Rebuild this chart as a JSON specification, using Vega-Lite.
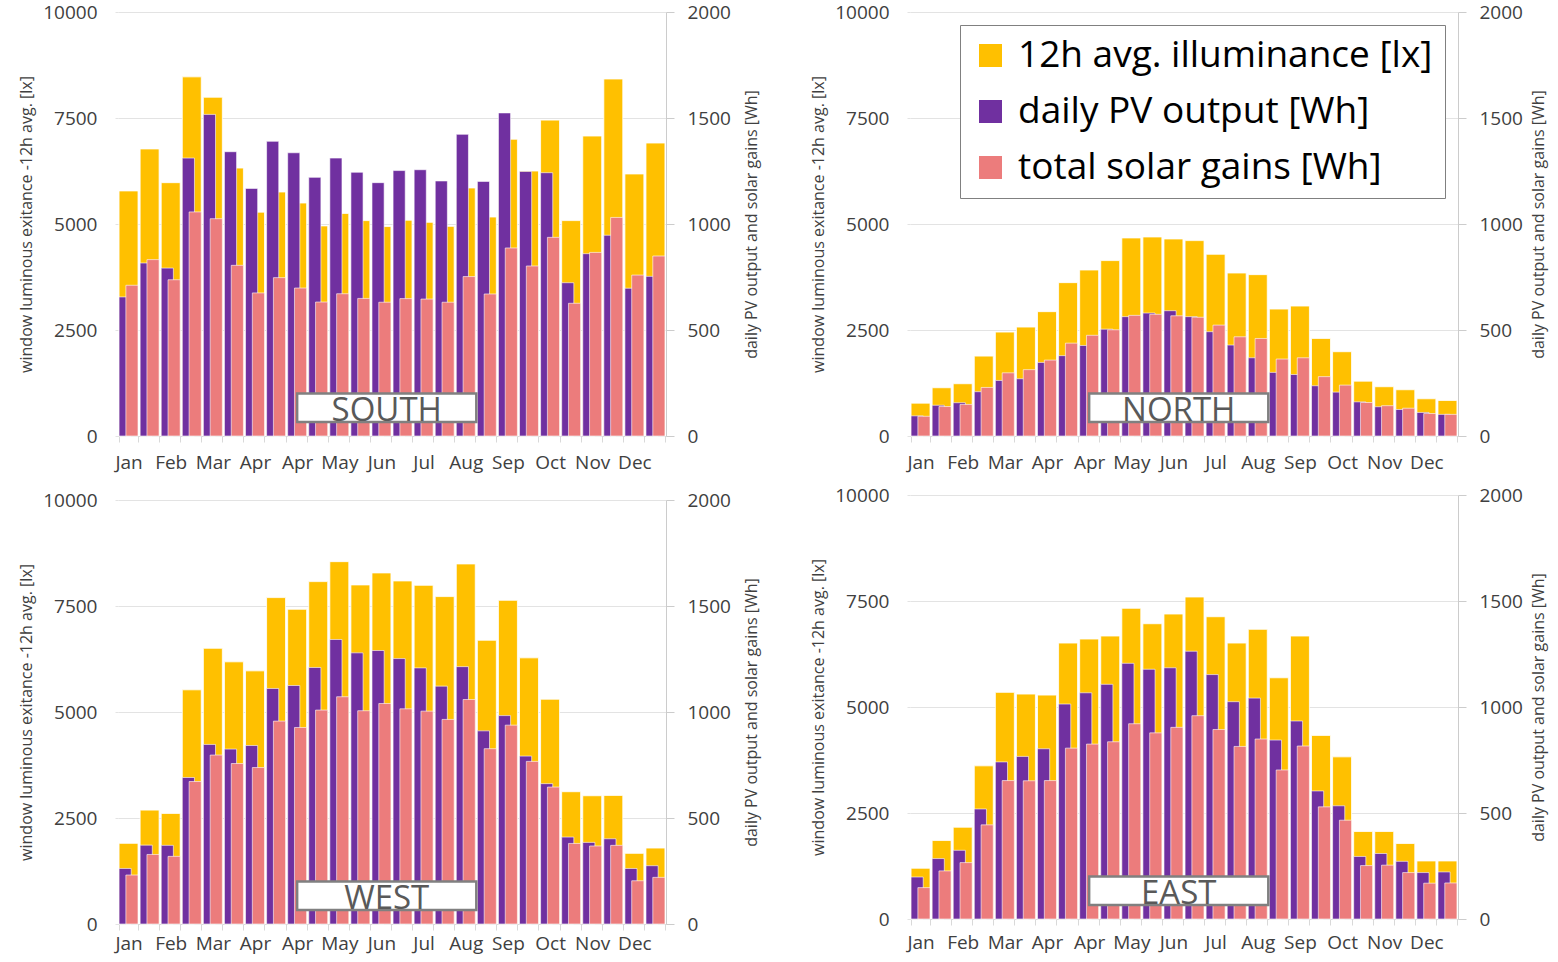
{
"$schema": "https://vega.github.io/schema/vega-lite/v6.json",
"padding": {"left": 18, "top": 3, "right": 6, "bottom": 4},
"config": {
  "view": {"stroke": null},
  "font": "Open Sans",
  "axis": {"labelFont": "Open Sans", "titleFont": "Open Sans", "labelFontSize": 19, "titleFontSize": 16, "titleFontWeight": "normal", "labelColor": "#404040", "titleColor": "#404040"},
  "legend": {"labelFont": "Open Sans"}
},
"datasets": {"d": [
{"d":"SOUTH","p":1,"s":"12h avg. illuminance [lx]","v":5780},{"d":"SOUTH","p":2,"s":"12h avg. illuminance [lx]","v":6770},{"d":"SOUTH","p":3,"s":"12h avg. illuminance [lx]","v":5975},{"d":"SOUTH","p":4,"s":"12h avg. illuminance [lx]","v":8470},{"d":"SOUTH","p":5,"s":"12h avg. illuminance [lx]","v":7990},{"d":"SOUTH","p":6,"s":"12h avg. illuminance [lx]","v":6320},{"d":"SOUTH","p":7,"s":"12h avg. illuminance [lx]","v":5280},{"d":"SOUTH","p":8,"s":"12h avg. illuminance [lx]","v":5755},{"d":"SOUTH","p":9,"s":"12h avg. illuminance [lx]","v":5495},{"d":"SOUTH","p":10,"s":"12h avg. illuminance [lx]","v":4955},{"d":"SOUTH","p":11,"s":"12h avg. illuminance [lx]","v":5250},{"d":"SOUTH","p":12,"s":"12h avg. illuminance [lx]","v":5080},{"d":"SOUTH","p":13,"s":"12h avg. illuminance [lx]","v":4940},{"d":"SOUTH","p":14,"s":"12h avg. illuminance [lx]","v":5090},{"d":"SOUTH","p":15,"s":"12h avg. illuminance [lx]","v":5040},{"d":"SOUTH","p":16,"s":"12h avg. illuminance [lx]","v":4945},{"d":"SOUTH","p":17,"s":"12h avg. illuminance [lx]","v":5850},{"d":"SOUTH","p":18,"s":"12h avg. illuminance [lx]","v":5165},{"d":"SOUTH","p":19,"s":"12h avg. illuminance [lx]","v":7000},{"d":"SOUTH","p":20,"s":"12h avg. illuminance [lx]","v":6250},{"d":"SOUTH","p":21,"s":"12h avg. illuminance [lx]","v":7450},{"d":"SOUTH","p":22,"s":"12h avg. illuminance [lx]","v":5080},{"d":"SOUTH","p":23,"s":"12h avg. illuminance [lx]","v":7075},{"d":"SOUTH","p":24,"s":"12h avg. illuminance [lx]","v":8420},{"d":"SOUTH","p":25,"s":"12h avg. illuminance [lx]","v":6180},{"d":"SOUTH","p":26,"s":"12h avg. illuminance [lx]","v":6910},
{"d":"SOUTH","p":1,"s":"daily PV output [Wh]","v":656},{"d":"SOUTH","p":2,"s":"daily PV output [Wh]","v":816},{"d":"SOUTH","p":3,"s":"daily PV output [Wh]","v":792},{"d":"SOUTH","p":4,"s":"daily PV output [Wh]","v":1311},{"d":"SOUTH","p":5,"s":"daily PV output [Wh]","v":1517},{"d":"SOUTH","p":6,"s":"daily PV output [Wh]","v":1341},{"d":"SOUTH","p":7,"s":"daily PV output [Wh]","v":1168},{"d":"SOUTH","p":8,"s":"daily PV output [Wh]","v":1390},{"d":"SOUTH","p":9,"s":"daily PV output [Wh]","v":1336},{"d":"SOUTH","p":10,"s":"daily PV output [Wh]","v":1220},{"d":"SOUTH","p":11,"s":"daily PV output [Wh]","v":1311},{"d":"SOUTH","p":12,"s":"daily PV output [Wh]","v":1244},{"d":"SOUTH","p":13,"s":"daily PV output [Wh]","v":1195},{"d":"SOUTH","p":14,"s":"daily PV output [Wh]","v":1252},{"d":"SOUTH","p":15,"s":"daily PV output [Wh]","v":1256},{"d":"SOUTH","p":16,"s":"daily PV output [Wh]","v":1203},{"d":"SOUTH","p":17,"s":"daily PV output [Wh]","v":1423},{"d":"SOUTH","p":18,"s":"daily PV output [Wh]","v":1201},{"d":"SOUTH","p":19,"s":"daily PV output [Wh]","v":1524},{"d":"SOUTH","p":20,"s":"daily PV output [Wh]","v":1248},{"d":"SOUTH","p":21,"s":"daily PV output [Wh]","v":1242},{"d":"SOUTH","p":22,"s":"daily PV output [Wh]","v":723},{"d":"SOUTH","p":23,"s":"daily PV output [Wh]","v":860},{"d":"SOUTH","p":24,"s":"daily PV output [Wh]","v":947},{"d":"SOUTH","p":25,"s":"daily PV output [Wh]","v":697},{"d":"SOUTH","p":26,"s":"daily PV output [Wh]","v":753},
{"d":"SOUTH","p":1,"s":"total solar gains [Wh]","v":711},{"d":"SOUTH","p":2,"s":"total solar gains [Wh]","v":832},{"d":"SOUTH","p":3,"s":"total solar gains [Wh]","v":737},{"d":"SOUTH","p":4,"s":"total solar gains [Wh]","v":1057},{"d":"SOUTH","p":5,"s":"total solar gains [Wh]","v":1025},{"d":"SOUTH","p":6,"s":"total solar gains [Wh]","v":805},{"d":"SOUTH","p":7,"s":"total solar gains [Wh]","v":675},{"d":"SOUTH","p":8,"s":"total solar gains [Wh]","v":747},{"d":"SOUTH","p":9,"s":"total solar gains [Wh]","v":698},{"d":"SOUTH","p":10,"s":"total solar gains [Wh]","v":632},{"d":"SOUTH","p":11,"s":"total solar gains [Wh]","v":671},{"d":"SOUTH","p":12,"s":"total solar gains [Wh]","v":649},{"d":"SOUTH","p":13,"s":"total solar gains [Wh]","v":631},{"d":"SOUTH","p":14,"s":"total solar gains [Wh]","v":648},{"d":"SOUTH","p":15,"s":"total solar gains [Wh]","v":646},{"d":"SOUTH","p":16,"s":"total solar gains [Wh]","v":631},{"d":"SOUTH","p":17,"s":"total solar gains [Wh]","v":752},{"d":"SOUTH","p":18,"s":"total solar gains [Wh]","v":670},{"d":"SOUTH","p":19,"s":"total solar gains [Wh]","v":887},{"d":"SOUTH","p":20,"s":"total solar gains [Wh]","v":802},{"d":"SOUTH","p":21,"s":"total solar gains [Wh]","v":937},{"d":"SOUTH","p":22,"s":"total solar gains [Wh]","v":626},{"d":"SOUTH","p":23,"s":"total solar gains [Wh]","v":866},{"d":"SOUTH","p":24,"s":"total solar gains [Wh]","v":1031},{"d":"SOUTH","p":25,"s":"total solar gains [Wh]","v":759},{"d":"SOUTH","p":26,"s":"total solar gains [Wh]","v":849},
{"d":"NORTH","p":1,"s":"12h avg. illuminance [lx]","v":774},{"d":"NORTH","p":2,"s":"12h avg. illuminance [lx]","v":1138},{"d":"NORTH","p":3,"s":"12h avg. illuminance [lx]","v":1233},{"d":"NORTH","p":4,"s":"12h avg. illuminance [lx]","v":1884},{"d":"NORTH","p":5,"s":"12h avg. illuminance [lx]","v":2451},{"d":"NORTH","p":6,"s":"12h avg. illuminance [lx]","v":2569},{"d":"NORTH","p":7,"s":"12h avg. illuminance [lx]","v":2933},{"d":"NORTH","p":8,"s":"12h avg. illuminance [lx]","v":3617},{"d":"NORTH","p":9,"s":"12h avg. illuminance [lx]","v":3915},{"d":"NORTH","p":10,"s":"12h avg. illuminance [lx]","v":4137},{"d":"NORTH","p":11,"s":"12h avg. illuminance [lx]","v":4671},{"d":"NORTH","p":12,"s":"12h avg. illuminance [lx]","v":4694},{"d":"NORTH","p":13,"s":"12h avg. illuminance [lx]","v":4647},{"d":"NORTH","p":14,"s":"12h avg. illuminance [lx]","v":4608},{"d":"NORTH","p":15,"s":"12h avg. illuminance [lx]","v":4286},{"d":"NORTH","p":16,"s":"12h avg. illuminance [lx]","v":3844},{"d":"NORTH","p":17,"s":"12h avg. illuminance [lx]","v":3806},{"d":"NORTH","p":18,"s":"12h avg. illuminance [lx]","v":2994},{"d":"NORTH","p":19,"s":"12h avg. illuminance [lx]","v":3065},{"d":"NORTH","p":20,"s":"12h avg. illuminance [lx]","v":2302},{"d":"NORTH","p":21,"s":"12h avg. illuminance [lx]","v":1988},{"d":"NORTH","p":22,"s":"12h avg. illuminance [lx]","v":1294},{"d":"NORTH","p":23,"s":"12h avg. illuminance [lx]","v":1162},{"d":"NORTH","p":24,"s":"12h avg. illuminance [lx]","v":1091},{"d":"NORTH","p":25,"s":"12h avg. illuminance [lx]","v":878},{"d":"NORTH","p":26,"s":"12h avg. illuminance [lx]","v":838},
{"d":"NORTH","p":1,"s":"daily PV output [Wh]","v":95},{"d":"NORTH","p":2,"s":"daily PV output [Wh]","v":145},{"d":"NORTH","p":3,"s":"daily PV output [Wh]","v":157},{"d":"NORTH","p":4,"s":"daily PV output [Wh]","v":209},{"d":"NORTH","p":5,"s":"daily PV output [Wh]","v":262},{"d":"NORTH","p":6,"s":"daily PV output [Wh]","v":270},{"d":"NORTH","p":7,"s":"daily PV output [Wh]","v":347},{"d":"NORTH","p":8,"s":"daily PV output [Wh]","v":379},{"d":"NORTH","p":9,"s":"daily PV output [Wh]","v":427},{"d":"NORTH","p":10,"s":"daily PV output [Wh]","v":504},{"d":"NORTH","p":11,"s":"daily PV output [Wh]","v":563},{"d":"NORTH","p":12,"s":"daily PV output [Wh]","v":580},{"d":"NORTH","p":13,"s":"daily PV output [Wh]","v":591},{"d":"NORTH","p":14,"s":"daily PV output [Wh]","v":563},{"d":"NORTH","p":15,"s":"daily PV output [Wh]","v":492},{"d":"NORTH","p":16,"s":"daily PV output [Wh]","v":429},{"d":"NORTH","p":17,"s":"daily PV output [Wh]","v":369},{"d":"NORTH","p":18,"s":"daily PV output [Wh]","v":300},{"d":"NORTH","p":19,"s":"daily PV output [Wh]","v":290},{"d":"NORTH","p":20,"s":"daily PV output [Wh]","v":237},{"d":"NORTH","p":21,"s":"daily PV output [Wh]","v":207},{"d":"NORTH","p":22,"s":"daily PV output [Wh]","v":161},{"d":"NORTH","p":23,"s":"daily PV output [Wh]","v":138},{"d":"NORTH","p":24,"s":"daily PV output [Wh]","v":125},{"d":"NORTH","p":25,"s":"daily PV output [Wh]","v":111},{"d":"NORTH","p":26,"s":"daily PV output [Wh]","v":102},
{"d":"NORTH","p":1,"s":"total solar gains [Wh]","v":93},{"d":"NORTH","p":2,"s":"total solar gains [Wh]","v":139},{"d":"NORTH","p":3,"s":"total solar gains [Wh]","v":149},{"d":"NORTH","p":4,"s":"total solar gains [Wh]","v":229},{"d":"NORTH","p":5,"s":"total solar gains [Wh]","v":298},{"d":"NORTH","p":6,"s":"total solar gains [Wh]","v":313},{"d":"NORTH","p":7,"s":"total solar gains [Wh]","v":358},{"d":"NORTH","p":8,"s":"total solar gains [Wh]","v":438},{"d":"NORTH","p":9,"s":"total solar gains [Wh]","v":475},{"d":"NORTH","p":10,"s":"total solar gains [Wh]","v":501},{"d":"NORTH","p":11,"s":"total solar gains [Wh]","v":569},{"d":"NORTH","p":12,"s":"total solar gains [Wh]","v":574},{"d":"NORTH","p":13,"s":"total solar gains [Wh]","v":567},{"d":"NORTH","p":14,"s":"total solar gains [Wh]","v":560},{"d":"NORTH","p":15,"s":"total solar gains [Wh]","v":523},{"d":"NORTH","p":16,"s":"total solar gains [Wh]","v":468},{"d":"NORTH","p":17,"s":"total solar gains [Wh]","v":460},{"d":"NORTH","p":18,"s":"total solar gains [Wh]","v":363},{"d":"NORTH","p":19,"s":"total solar gains [Wh]","v":369},{"d":"NORTH","p":20,"s":"total solar gains [Wh]","v":280},{"d":"NORTH","p":21,"s":"total solar gains [Wh]","v":240},{"d":"NORTH","p":22,"s":"total solar gains [Wh]","v":158},{"d":"NORTH","p":23,"s":"total solar gains [Wh]","v":143},{"d":"NORTH","p":24,"s":"total solar gains [Wh]","v":131},{"d":"NORTH","p":25,"s":"total solar gains [Wh]","v":106},{"d":"NORTH","p":26,"s":"total solar gains [Wh]","v":102},
{"d":"WEST","p":1,"s":"12h avg. illuminance [lx]","v":1902},{"d":"WEST","p":2,"s":"12h avg. illuminance [lx]","v":2686},{"d":"WEST","p":3,"s":"12h avg. illuminance [lx]","v":2608},{"d":"WEST","p":4,"s":"12h avg. illuminance [lx]","v":5523},{"d":"WEST","p":5,"s":"12h avg. illuminance [lx]","v":6503},{"d":"WEST","p":6,"s":"12h avg. illuminance [lx]","v":6183},{"d":"WEST","p":7,"s":"12h avg. illuminance [lx]","v":5970},{"d":"WEST","p":8,"s":"12h avg. illuminance [lx]","v":7698},{"d":"WEST","p":9,"s":"12h avg. illuminance [lx]","v":7423},{"d":"WEST","p":10,"s":"12h avg. illuminance [lx]","v":8075},{"d":"WEST","p":11,"s":"12h avg. illuminance [lx]","v":8546},{"d":"WEST","p":12,"s":"12h avg. illuminance [lx]","v":7997},{"d":"WEST","p":13,"s":"12h avg. illuminance [lx]","v":8280},{"d":"WEST","p":14,"s":"12h avg. illuminance [lx]","v":8091},{"d":"WEST","p":15,"s":"12h avg. illuminance [lx]","v":7988},{"d":"WEST","p":16,"s":"12h avg. illuminance [lx]","v":7722},{"d":"WEST","p":17,"s":"12h avg. illuminance [lx]","v":8492},{"d":"WEST","p":18,"s":"12h avg. illuminance [lx]","v":6692},{"d":"WEST","p":19,"s":"12h avg. illuminance [lx]","v":7634},{"d":"WEST","p":20,"s":"12h avg. illuminance [lx]","v":6277},{"d":"WEST","p":21,"s":"12h avg. illuminance [lx]","v":5302},{"d":"WEST","p":22,"s":"12h avg. illuminance [lx]","v":3120},{"d":"WEST","p":23,"s":"12h avg. illuminance [lx]","v":3025},{"d":"WEST","p":24,"s":"12h avg. illuminance [lx]","v":3033},{"d":"WEST","p":25,"s":"12h avg. illuminance [lx]","v":1666},{"d":"WEST","p":26,"s":"12h avg. illuminance [lx]","v":1791},
{"d":"WEST","p":1,"s":"daily PV output [Wh]","v":262},{"d":"WEST","p":2,"s":"daily PV output [Wh]","v":372},{"d":"WEST","p":3,"s":"daily PV output [Wh]","v":371},{"d":"WEST","p":4,"s":"daily PV output [Wh]","v":691},{"d":"WEST","p":5,"s":"daily PV output [Wh]","v":847},{"d":"WEST","p":6,"s":"daily PV output [Wh]","v":825},{"d":"WEST","p":7,"s":"daily PV output [Wh]","v":842},{"d":"WEST","p":8,"s":"daily PV output [Wh]","v":1111},{"d":"WEST","p":9,"s":"daily PV output [Wh]","v":1125},{"d":"WEST","p":10,"s":"daily PV output [Wh]","v":1210},{"d":"WEST","p":11,"s":"daily PV output [Wh]","v":1342},{"d":"WEST","p":12,"s":"daily PV output [Wh]","v":1279},{"d":"WEST","p":13,"s":"daily PV output [Wh]","v":1290},{"d":"WEST","p":14,"s":"daily PV output [Wh]","v":1252},{"d":"WEST","p":15,"s":"daily PV output [Wh]","v":1208},{"d":"WEST","p":16,"s":"daily PV output [Wh]","v":1122},{"d":"WEST","p":17,"s":"daily PV output [Wh]","v":1214},{"d":"WEST","p":18,"s":"daily PV output [Wh]","v":911},{"d":"WEST","p":19,"s":"daily PV output [Wh]","v":983},{"d":"WEST","p":20,"s":"daily PV output [Wh]","v":792},{"d":"WEST","p":21,"s":"daily PV output [Wh]","v":662},{"d":"WEST","p":22,"s":"daily PV output [Wh]","v":410},{"d":"WEST","p":23,"s":"daily PV output [Wh]","v":385},{"d":"WEST","p":24,"s":"daily PV output [Wh]","v":402},{"d":"WEST","p":25,"s":"daily PV output [Wh]","v":262},{"d":"WEST","p":26,"s":"daily PV output [Wh]","v":275},
{"d":"WEST","p":1,"s":"total solar gains [Wh]","v":231},{"d":"WEST","p":2,"s":"total solar gains [Wh]","v":328},{"d":"WEST","p":3,"s":"total solar gains [Wh]","v":319},{"d":"WEST","p":4,"s":"total solar gains [Wh]","v":672},{"d":"WEST","p":5,"s":"total solar gains [Wh]","v":797},{"d":"WEST","p":6,"s":"total solar gains [Wh]","v":757},{"d":"WEST","p":7,"s":"total solar gains [Wh]","v":738},{"d":"WEST","p":8,"s":"total solar gains [Wh]","v":957},{"d":"WEST","p":9,"s":"total solar gains [Wh]","v":927},{"d":"WEST","p":10,"s":"total solar gains [Wh]","v":1009},{"d":"WEST","p":11,"s":"total solar gains [Wh]","v":1072},{"d":"WEST","p":12,"s":"total solar gains [Wh]","v":1006},{"d":"WEST","p":13,"s":"total solar gains [Wh]","v":1040},{"d":"WEST","p":14,"s":"total solar gains [Wh]","v":1015},{"d":"WEST","p":15,"s":"total solar gains [Wh]","v":1004},{"d":"WEST","p":16,"s":"total solar gains [Wh]","v":965},{"d":"WEST","p":17,"s":"total solar gains [Wh]","v":1059},{"d":"WEST","p":18,"s":"total solar gains [Wh]","v":827},{"d":"WEST","p":19,"s":"total solar gains [Wh]","v":938},{"d":"WEST","p":20,"s":"total solar gains [Wh]","v":767},{"d":"WEST","p":21,"s":"total solar gains [Wh]","v":646},{"d":"WEST","p":22,"s":"total solar gains [Wh]","v":380},{"d":"WEST","p":23,"s":"total solar gains [Wh]","v":368},{"d":"WEST","p":24,"s":"total solar gains [Wh]","v":371},{"d":"WEST","p":25,"s":"total solar gains [Wh]","v":204},{"d":"WEST","p":26,"s":"total solar gains [Wh]","v":220},
{"d":"EAST","p":1,"s":"12h avg. illuminance [lx]","v":1197},{"d":"EAST","p":2,"s":"12h avg. illuminance [lx]","v":1851},{"d":"EAST","p":3,"s":"12h avg. illuminance [lx]","v":2165},{"d":"EAST","p":4,"s":"12h avg. illuminance [lx]","v":3612},{"d":"EAST","p":5,"s":"12h avg. illuminance [lx]","v":5345},{"d":"EAST","p":6,"s":"12h avg. illuminance [lx]","v":5305},{"d":"EAST","p":7,"s":"12h avg. illuminance [lx]","v":5281},{"d":"EAST","p":8,"s":"12h avg. illuminance [lx]","v":6508},{"d":"EAST","p":9,"s":"12h avg. illuminance [lx]","v":6603},{"d":"EAST","p":10,"s":"12h avg. illuminance [lx]","v":6674},{"d":"EAST","p":11,"s":"12h avg. illuminance [lx]","v":7328},{"d":"EAST","p":12,"s":"12h avg. illuminance [lx]","v":6964},{"d":"EAST","p":13,"s":"12h avg. illuminance [lx]","v":7193},{"d":"EAST","p":14,"s":"12h avg. illuminance [lx]","v":7594},{"d":"EAST","p":15,"s":"12h avg. illuminance [lx]","v":7129},{"d":"EAST","p":16,"s":"12h avg. illuminance [lx]","v":6508},{"d":"EAST","p":17,"s":"12h avg. illuminance [lx]","v":6832},{"d":"EAST","p":18,"s":"12h avg. illuminance [lx]","v":5689},{"d":"EAST","p":19,"s":"12h avg. illuminance [lx]","v":6674},{"d":"EAST","p":20,"s":"12h avg. illuminance [lx]","v":4330},{"d":"EAST","p":21,"s":"12h avg. illuminance [lx]","v":3824},{"d":"EAST","p":22,"s":"12h avg. illuminance [lx]","v":2063},{"d":"EAST","p":23,"s":"12h avg. illuminance [lx]","v":2063},{"d":"EAST","p":24,"s":"12h avg. illuminance [lx]","v":1780},{"d":"EAST","p":25,"s":"12h avg. illuminance [lx]","v":1369},{"d":"EAST","p":26,"s":"12h avg. illuminance [lx]","v":1369},
{"d":"EAST","p":1,"s":"daily PV output [Wh]","v":198},{"d":"EAST","p":2,"s":"daily PV output [Wh]","v":285},{"d":"EAST","p":3,"s":"daily PV output [Wh]","v":324},{"d":"EAST","p":4,"s":"daily PV output [Wh]","v":519},{"d":"EAST","p":5,"s":"daily PV output [Wh]","v":741},{"d":"EAST","p":6,"s":"daily PV output [Wh]","v":767},{"d":"EAST","p":7,"s":"daily PV output [Wh]","v":803},{"d":"EAST","p":8,"s":"daily PV output [Wh]","v":1014},{"d":"EAST","p":9,"s":"daily PV output [Wh]","v":1067},{"d":"EAST","p":10,"s":"daily PV output [Wh]","v":1107},{"d":"EAST","p":11,"s":"daily PV output [Wh]","v":1206},{"d":"EAST","p":12,"s":"daily PV output [Wh]","v":1178},{"d":"EAST","p":13,"s":"daily PV output [Wh]","v":1185},{"d":"EAST","p":14,"s":"daily PV output [Wh]","v":1263},{"d":"EAST","p":15,"s":"daily PV output [Wh]","v":1153},{"d":"EAST","p":16,"s":"daily PV output [Wh]","v":1025},{"d":"EAST","p":17,"s":"daily PV output [Wh]","v":1042},{"d":"EAST","p":18,"s":"daily PV output [Wh]","v":844},{"d":"EAST","p":19,"s":"daily PV output [Wh]","v":934},{"d":"EAST","p":20,"s":"daily PV output [Wh]","v":604},{"d":"EAST","p":21,"s":"daily PV output [Wh]","v":534},{"d":"EAST","p":22,"s":"daily PV output [Wh]","v":295},{"d":"EAST","p":23,"s":"daily PV output [Wh]","v":309},{"d":"EAST","p":24,"s":"daily PV output [Wh]","v":272},{"d":"EAST","p":25,"s":"daily PV output [Wh]","v":219},{"d":"EAST","p":26,"s":"daily PV output [Wh]","v":222},
{"d":"EAST","p":1,"s":"total solar gains [Wh]","v":148},{"d":"EAST","p":2,"s":"total solar gains [Wh]","v":227},{"d":"EAST","p":3,"s":"total solar gains [Wh]","v":266},{"d":"EAST","p":4,"s":"total solar gains [Wh]","v":444},{"d":"EAST","p":5,"s":"total solar gains [Wh]","v":653},{"d":"EAST","p":6,"s":"total solar gains [Wh]","v":652},{"d":"EAST","p":7,"s":"total solar gains [Wh]","v":653},{"d":"EAST","p":8,"s":"total solar gains [Wh]","v":806},{"d":"EAST","p":9,"s":"total solar gains [Wh]","v":825},{"d":"EAST","p":10,"s":"total solar gains [Wh]","v":836},{"d":"EAST","p":11,"s":"total solar gains [Wh]","v":921},{"d":"EAST","p":12,"s":"total solar gains [Wh]","v":878},{"d":"EAST","p":13,"s":"total solar gains [Wh]","v":904},{"d":"EAST","p":14,"s":"total solar gains [Wh]","v":959},{"d":"EAST","p":15,"s":"total solar gains [Wh]","v":894},{"d":"EAST","p":16,"s":"total solar gains [Wh]","v":814},{"d":"EAST","p":17,"s":"total solar gains [Wh]","v":849},{"d":"EAST","p":18,"s":"total solar gains [Wh]","v":703},{"d":"EAST","p":19,"s":"total solar gains [Wh]","v":816},{"d":"EAST","p":20,"s":"total solar gains [Wh]","v":529},{"d":"EAST","p":21,"s":"total solar gains [Wh]","v":466},{"d":"EAST","p":22,"s":"total solar gains [Wh]","v":252},{"d":"EAST","p":23,"s":"total solar gains [Wh]","v":254},{"d":"EAST","p":24,"s":"total solar gains [Wh]","v":219},{"d":"EAST","p":25,"s":"total solar gains [Wh]","v":169},{"d":"EAST","p":26,"s":"total solar gains [Wh]","v":170}
]},
"resolve": {"scale": {"color": "independent"}, "legend": {"color": "independent"}},
"spacing": 50,
"hconcat": [
 {"spacing": 19,
  "resolve": {"scale": {"color": "independent"}, "legend": {"color": "independent"}},
  "vconcat": [
  {"width": 548, "height": 424,
   "resolve": {"scale": {"x": "independent", "y": "independent"}},
   "layer": [
    {"data": {"name": "d"}, "transform": [{"filter": "datum.d == 'SOUTH' && datum.s == '12h avg. illuminance [lx]'"}],
     "mark": {"type": "bar", "stroke": "white", "strokeWidth": 0.8},
     "encoding": {
      "x": {"field": "p", "type": "ordinal", "scale": {"paddingInner": 0.1, "paddingOuter": 0.05}, "axis": {"title": null, "labelAngle": 0, "tickBand": "extent", "domainColor": "#d9d9d9", "tickColor": "#d9d9d9", "tickSize": 6, "labelPadding": 11, "labelOverlap": false, "labelExpr": "['Jan','','Feb','','Mar','','Apr','','Apr','','May','','Jun','','Jul','','Aug','','Sep','','Oct','','Nov','','Dec',''][datum.value-1]"}},
      "y": {"field": "v", "type": "quantitative", "scale": {"domain": [0, 10000], "nice": false}, "axis": {"title": "window luminous exitance -12h avg. [lx]", "format": "d", "values": [0, 2500, 5000, 7500, 10000], "grid": true, "gridColor": "#e3e3e3", "domain": false, "tickColor": "#e3e3e3", "tickSize": 3, "labelPadding": 18, "titlePadding": 8}},
      "color": {"field": "s", "type": "nominal", "scale": {"domain": ["12h avg. illuminance [lx]", "daily PV output [Wh]", "total solar gains [Wh]"], "range": ["#FFC000", "#7030A0", "#EC7C7C"]}, "legend": null}}},
    {"data": {"name": "d"}, "transform": [{"filter": "datum.d == 'SOUTH' && datum.s == 'daily PV output [Wh]'"}],
     "mark": {"type": "bar", "width": {"band": 0.64}, "xOffset": -3.4, "stroke": "white", "strokeWidth": 0.6},
     "encoding": {
      "x": {"field": "p", "type": "ordinal", "scale": {"paddingInner": 0.1, "paddingOuter": 0.05}, "axis": null},
      "y": {"field": "v", "type": "quantitative", "scale": {"domain": [0, 2000], "nice": false}, "axis": {"orient": "right", "title": "daily PV output and solar gains [Wh]", "titleAngle": 270, "titleBaseline": "top", "format": "d", "values": [0, 500, 1000, 1500, 2000], "grid": false, "domain": true, "domainColor": "#cccccc", "tickColor": "#cccccc", "tickSize": 8, "labelPadding": 13, "titlePadding": 13}},
      "color": {"field": "s", "type": "nominal", "scale": {"domain": ["12h avg. illuminance [lx]", "daily PV output [Wh]", "total solar gains [Wh]"], "range": ["#FFC000", "#7030A0", "#EC7C7C"]}, "legend": null}}},
    {"data": {"name": "d"}, "transform": [{"filter": "datum.d == 'SOUTH' && datum.s == 'total solar gains [Wh]'"}],
     "mark": {"type": "bar", "width": {"band": 0.64}, "xOffset": 3.4, "stroke": "white", "strokeWidth": 0.6},
     "encoding": {
      "x": {"field": "p", "type": "ordinal", "scale": {"paddingInner": 0.1, "paddingOuter": 0.05}, "axis": null},
      "y": {"field": "v", "type": "quantitative", "scale": {"domain": [0, 2000], "nice": false}, "axis": null},
      "color": {"field": "s", "type": "nominal", "scale": {"domain": ["12h avg. illuminance [lx]", "daily PV output [Wh]", "total solar gains [Wh]"], "range": ["#FFC000", "#7030A0", "#EC7C7C"]}, "legend": null}}},
    {"data": {"values": [{}]}, "mark": {"type": "rect", "fill": "white", "stroke": "#808080", "strokeWidth": 2.5},
     "encoding": {"x": {"datum": 8.5, "type": "quantitative", "scale": {"domain": [0, 26], "nice": false}, "axis": null}, "x2": {"datum": 17}, "y": {"datum": 330, "type": "quantitative", "scale": {"domain": [0, 10000], "nice": false}, "axis": null}, "y2": {"datum": 1000}}},
    {"data": {"values": [{}]}, "mark": {"type": "text", "text": "SOUTH", "font": "Open Sans", "fontSize": 33, "color": "#595959", "baseline": "middle", "align": "center"},
     "encoding": {"x": {"datum": 12.75, "type": "quantitative", "scale": {"domain": [0, 26], "nice": false}, "axis": null}, "y": {"datum": 590, "type": "quantitative", "scale": {"domain": [0, 10000], "nice": false}, "axis": null}}}
   ]},
  {"width": 548, "height": 424,
   "resolve": {"scale": {"x": "independent", "y": "independent"}},
   "layer": [
    {"data": {"name": "d"}, "transform": [{"filter": "datum.d == 'WEST' && datum.s == '12h avg. illuminance [lx]'"}],
     "mark": {"type": "bar", "stroke": "white", "strokeWidth": 0.8},
     "encoding": {
      "x": {"field": "p", "type": "ordinal", "scale": {"paddingInner": 0.1, "paddingOuter": 0.05}, "axis": {"title": null, "labelAngle": 0, "tickBand": "extent", "domainColor": "#d9d9d9", "tickColor": "#d9d9d9", "tickSize": 6, "labelPadding": 4, "labelOverlap": false, "labelExpr": "['Jan','','Feb','','Mar','','Apr','','Apr','','May','','Jun','','Jul','','Aug','','Sep','','Oct','','Nov','','Dec',''][datum.value-1]"}},
      "y": {"field": "v", "type": "quantitative", "scale": {"domain": [0, 10000], "nice": false}, "axis": {"title": "window luminous exitance -12h avg. [lx]", "format": "d", "values": [0, 2500, 5000, 7500, 10000], "grid": true, "gridColor": "#e3e3e3", "domain": false, "tickColor": "#e3e3e3", "tickSize": 3, "labelPadding": 18, "titlePadding": 8}},
      "color": {"field": "s", "type": "nominal", "scale": {"domain": ["12h avg. illuminance [lx]", "daily PV output [Wh]", "total solar gains [Wh]"], "range": ["#FFC000", "#7030A0", "#EC7C7C"]}, "legend": null}}},
    {"data": {"name": "d"}, "transform": [{"filter": "datum.d == 'WEST' && datum.s == 'daily PV output [Wh]'"}],
     "mark": {"type": "bar", "width": {"band": 0.64}, "xOffset": -3.4, "stroke": "white", "strokeWidth": 0.6},
     "encoding": {
      "x": {"field": "p", "type": "ordinal", "scale": {"paddingInner": 0.1, "paddingOuter": 0.05}, "axis": null},
      "y": {"field": "v", "type": "quantitative", "scale": {"domain": [0, 2000], "nice": false}, "axis": {"orient": "right", "title": "daily PV output and solar gains [Wh]", "titleAngle": 270, "titleBaseline": "top", "format": "d", "values": [0, 500, 1000, 1500, 2000], "grid": false, "domain": true, "domainColor": "#cccccc", "tickColor": "#cccccc", "tickSize": 8, "labelPadding": 13, "titlePadding": 13}},
      "color": {"field": "s", "type": "nominal", "scale": {"domain": ["12h avg. illuminance [lx]", "daily PV output [Wh]", "total solar gains [Wh]"], "range": ["#FFC000", "#7030A0", "#EC7C7C"]}, "legend": null}}},
    {"data": {"name": "d"}, "transform": [{"filter": "datum.d == 'WEST' && datum.s == 'total solar gains [Wh]'"}],
     "mark": {"type": "bar", "width": {"band": 0.64}, "xOffset": 3.4, "stroke": "white", "strokeWidth": 0.6},
     "encoding": {
      "x": {"field": "p", "type": "ordinal", "scale": {"paddingInner": 0.1, "paddingOuter": 0.05}, "axis": null},
      "y": {"field": "v", "type": "quantitative", "scale": {"domain": [0, 2000], "nice": false}, "axis": null},
      "color": {"field": "s", "type": "nominal", "scale": {"domain": ["12h avg. illuminance [lx]", "daily PV output [Wh]", "total solar gains [Wh]"], "range": ["#FFC000", "#7030A0", "#EC7C7C"]}, "legend": null}}},
    {"data": {"values": [{}]}, "mark": {"type": "rect", "fill": "white", "stroke": "#808080", "strokeWidth": 2.5},
     "encoding": {"x": {"datum": 8.5, "type": "quantitative", "scale": {"domain": [0, 26], "nice": false}, "axis": null}, "x2": {"datum": 17}, "y": {"datum": 330, "type": "quantitative", "scale": {"domain": [0, 10000], "nice": false}, "axis": null}, "y2": {"datum": 1000}}},
    {"data": {"values": [{}]}, "mark": {"type": "text", "text": "WEST", "font": "Open Sans", "fontSize": 33, "color": "#595959", "baseline": "middle", "align": "center"},
     "encoding": {"x": {"datum": 12.75, "type": "quantitative", "scale": {"domain": [0, 26], "nice": false}, "axis": null}, "y": {"datum": 590, "type": "quantitative", "scale": {"domain": [0, 10000], "nice": false}, "axis": null}}}
   ]}
 ]},
 {"spacing": 14,
  "resolve": {"scale": {"color": "independent"}, "legend": {"color": "independent"}},
  "vconcat": [
  {"width": 548, "height": 424,
   "resolve": {"scale": {"x": "independent", "y": "independent"}},
   "layer": [
    {"data": {"name": "d"}, "transform": [{"filter": "datum.d == 'NORTH' && datum.s == '12h avg. illuminance [lx]'"}],
     "mark": {"type": "bar", "stroke": "white", "strokeWidth": 0.8},
     "encoding": {
      "x": {"field": "p", "type": "ordinal", "scale": {"paddingInner": 0.1, "paddingOuter": 0.05}, "axis": {"title": null, "labelAngle": 0, "tickBand": "extent", "domainColor": "#d9d9d9", "tickColor": "#d9d9d9", "tickSize": 6, "labelPadding": 11, "labelOverlap": false, "labelExpr": "['Jan','','Feb','','Mar','','Apr','','Apr','','May','','Jun','','Jul','','Aug','','Sep','','Oct','','Nov','','Dec',''][datum.value-1]"}},
      "y": {"field": "v", "type": "quantitative", "scale": {"domain": [0, 10000], "nice": false}, "axis": {"title": "window luminous exitance -12h avg. [lx]", "format": "d", "values": [0, 2500, 5000, 7500, 10000], "grid": true, "gridColor": "#e3e3e3", "domain": false, "tickColor": "#e3e3e3", "tickSize": 3, "labelPadding": 18, "titlePadding": 8}},
      "color": {"field": "s", "type": "nominal", "scale": {"domain": ["12h avg. illuminance [lx]", "daily PV output [Wh]", "total solar gains [Wh]"], "range": ["#FFC000", "#7030A0", "#EC7C7C"]}, "legend": {"title": null, "orient": "top-right", "offset": 13, "padding": 12, "symbolOffset": 0, "fillColor": "white", "strokeColor": "#808080", "symbolType": "square", "symbolSize": 530, "symbolStrokeWidth": 0, "labelFontSize": 37, "labelColor": "#000000", "labelOffset": 9, "rowPadding": 18, "labelLimit": 600, "encode": {"legend": {"update": {"strokeWidth": {"value": 2.5}}}}}}}},
    {"data": {"name": "d"}, "transform": [{"filter": "datum.d == 'NORTH' && datum.s == 'daily PV output [Wh]'"}],
     "mark": {"type": "bar", "width": {"band": 0.64}, "xOffset": -3.4, "stroke": "white", "strokeWidth": 0.6},
     "encoding": {
      "x": {"field": "p", "type": "ordinal", "scale": {"paddingInner": 0.1, "paddingOuter": 0.05}, "axis": null},
      "y": {"field": "v", "type": "quantitative", "scale": {"domain": [0, 2000], "nice": false}, "axis": {"orient": "right", "title": "daily PV output and solar gains [Wh]", "titleAngle": 270, "titleBaseline": "top", "format": "d", "values": [0, 500, 1000, 1500, 2000], "grid": false, "domain": true, "domainColor": "#cccccc", "tickColor": "#cccccc", "tickSize": 8, "labelPadding": 13, "titlePadding": 8}},
      "color": {"field": "s", "type": "nominal", "scale": {"domain": ["12h avg. illuminance [lx]", "daily PV output [Wh]", "total solar gains [Wh]"], "range": ["#FFC000", "#7030A0", "#EC7C7C"]}, "legend": {"title": null, "orient": "top-right", "offset": 13, "padding": 12, "symbolOffset": 0, "fillColor": "white", "strokeColor": "#808080", "symbolType": "square", "symbolSize": 530, "symbolStrokeWidth": 0, "labelFontSize": 37, "labelColor": "#000000", "labelOffset": 9, "rowPadding": 18, "labelLimit": 600, "encode": {"legend": {"update": {"strokeWidth": {"value": 2.5}}}}}}}},
    {"data": {"name": "d"}, "transform": [{"filter": "datum.d == 'NORTH' && datum.s == 'total solar gains [Wh]'"}],
     "mark": {"type": "bar", "width": {"band": 0.64}, "xOffset": 3.4, "stroke": "white", "strokeWidth": 0.6},
     "encoding": {
      "x": {"field": "p", "type": "ordinal", "scale": {"paddingInner": 0.1, "paddingOuter": 0.05}, "axis": null},
      "y": {"field": "v", "type": "quantitative", "scale": {"domain": [0, 2000], "nice": false}, "axis": null},
      "color": {"field": "s", "type": "nominal", "scale": {"domain": ["12h avg. illuminance [lx]", "daily PV output [Wh]", "total solar gains [Wh]"], "range": ["#FFC000", "#7030A0", "#EC7C7C"]}, "legend": {"title": null, "orient": "top-right", "offset": 13, "padding": 12, "symbolOffset": 0, "fillColor": "white", "strokeColor": "#808080", "symbolType": "square", "symbolSize": 530, "symbolStrokeWidth": 0, "labelFontSize": 37, "labelColor": "#000000", "labelOffset": 9, "rowPadding": 18, "labelLimit": 600, "encode": {"legend": {"update": {"strokeWidth": {"value": 2.5}}}}}}}},
    {"data": {"values": [{}]}, "mark": {"type": "rect", "fill": "white", "stroke": "#808080", "strokeWidth": 2.5},
     "encoding": {"x": {"datum": 8.5, "type": "quantitative", "scale": {"domain": [0, 26], "nice": false}, "axis": null}, "x2": {"datum": 17}, "y": {"datum": 330, "type": "quantitative", "scale": {"domain": [0, 10000], "nice": false}, "axis": null}, "y2": {"datum": 1000}}},
    {"data": {"values": [{}]}, "mark": {"type": "text", "text": "NORTH", "font": "Open Sans", "fontSize": 33, "color": "#595959", "baseline": "middle", "align": "center"},
     "encoding": {"x": {"datum": 12.75, "type": "quantitative", "scale": {"domain": [0, 26], "nice": false}, "axis": null}, "y": {"datum": 590, "type": "quantitative", "scale": {"domain": [0, 10000], "nice": false}, "axis": null}}}
   ]},
  {"width": 548, "height": 424,
   "resolve": {"scale": {"x": "independent", "y": "independent"}},
   "layer": [
    {"data": {"name": "d"}, "transform": [{"filter": "datum.d == 'EAST' && datum.s == '12h avg. illuminance [lx]'"}],
     "mark": {"type": "bar", "stroke": "white", "strokeWidth": 0.8},
     "encoding": {
      "x": {"field": "p", "type": "ordinal", "scale": {"paddingInner": 0.1, "paddingOuter": 0.05}, "axis": {"title": null, "labelAngle": 0, "tickBand": "extent", "domainColor": "#d9d9d9", "tickColor": "#d9d9d9", "tickSize": 6, "labelPadding": 8, "labelOverlap": false, "labelExpr": "['Jan','','Feb','','Mar','','Apr','','Apr','','May','','Jun','','Jul','','Aug','','Sep','','Oct','','Nov','','Dec',''][datum.value-1]"}},
      "y": {"field": "v", "type": "quantitative", "scale": {"domain": [0, 10000], "nice": false}, "axis": {"title": "window luminous exitance -12h avg. [lx]", "format": "d", "values": [0, 2500, 5000, 7500, 10000], "grid": true, "gridColor": "#e3e3e3", "domain": false, "tickColor": "#e3e3e3", "tickSize": 3, "labelPadding": 18, "titlePadding": 8}},
      "color": {"field": "s", "type": "nominal", "scale": {"domain": ["12h avg. illuminance [lx]", "daily PV output [Wh]", "total solar gains [Wh]"], "range": ["#FFC000", "#7030A0", "#EC7C7C"]}, "legend": null}}},
    {"data": {"name": "d"}, "transform": [{"filter": "datum.d == 'EAST' && datum.s == 'daily PV output [Wh]'"}],
     "mark": {"type": "bar", "width": {"band": 0.64}, "xOffset": -3.4, "stroke": "white", "strokeWidth": 0.6},
     "encoding": {
      "x": {"field": "p", "type": "ordinal", "scale": {"paddingInner": 0.1, "paddingOuter": 0.05}, "axis": null},
      "y": {"field": "v", "type": "quantitative", "scale": {"domain": [0, 2000], "nice": false}, "axis": {"orient": "right", "title": "daily PV output and solar gains [Wh]", "titleAngle": 270, "titleBaseline": "top", "format": "d", "values": [0, 500, 1000, 1500, 2000], "grid": false, "domain": true, "domainColor": "#cccccc", "tickColor": "#cccccc", "tickSize": 8, "labelPadding": 13, "titlePadding": 8}},
      "color": {"field": "s", "type": "nominal", "scale": {"domain": ["12h avg. illuminance [lx]", "daily PV output [Wh]", "total solar gains [Wh]"], "range": ["#FFC000", "#7030A0", "#EC7C7C"]}, "legend": null}}},
    {"data": {"name": "d"}, "transform": [{"filter": "datum.d == 'EAST' && datum.s == 'total solar gains [Wh]'"}],
     "mark": {"type": "bar", "width": {"band": 0.64}, "xOffset": 3.4, "stroke": "white", "strokeWidth": 0.6},
     "encoding": {
      "x": {"field": "p", "type": "ordinal", "scale": {"paddingInner": 0.1, "paddingOuter": 0.05}, "axis": null},
      "y": {"field": "v", "type": "quantitative", "scale": {"domain": [0, 2000], "nice": false}, "axis": null},
      "color": {"field": "s", "type": "nominal", "scale": {"domain": ["12h avg. illuminance [lx]", "daily PV output [Wh]", "total solar gains [Wh]"], "range": ["#FFC000", "#7030A0", "#EC7C7C"]}, "legend": null}}},
    {"data": {"values": [{}]}, "mark": {"type": "rect", "fill": "white", "stroke": "#808080", "strokeWidth": 2.5},
     "encoding": {"x": {"datum": 8.5, "type": "quantitative", "scale": {"domain": [0, 26], "nice": false}, "axis": null}, "x2": {"datum": 17}, "y": {"datum": 330, "type": "quantitative", "scale": {"domain": [0, 10000], "nice": false}, "axis": null}, "y2": {"datum": 1000}}},
    {"data": {"values": [{}]}, "mark": {"type": "text", "text": "EAST", "font": "Open Sans", "fontSize": 33, "color": "#595959", "baseline": "middle", "align": "center"},
     "encoding": {"x": {"datum": 12.75, "type": "quantitative", "scale": {"domain": [0, 26], "nice": false}, "axis": null}, "y": {"datum": 590, "type": "quantitative", "scale": {"domain": [0, 10000], "nice": false}, "axis": null}}}
   ]}
 ]}
]
}
